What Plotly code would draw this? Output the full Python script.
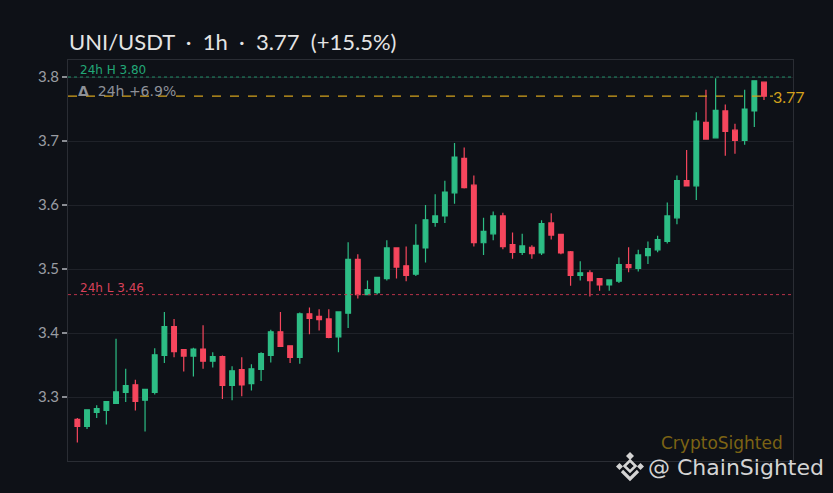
import pandas as pd
import plotly.graph_objects as go

# hourly UNI/USDT candles
open_ = [3.265, 3.254, 3.276, 3.279, 3.290, 3.307, 3.319, 3.295, 3.307, 3.365,
         3.410, 3.374, 3.364, 3.375, 3.356, 3.363, 3.318, 3.343, 3.321, 3.343,
         3.365, 3.402, 3.380, 3.362, 3.430, 3.426, 3.422, 3.394, 3.431, 3.515,
         3.460, 3.463, 3.485, 3.533, 3.505, 3.492, 3.533, 3.573, 3.583, 3.619,
         3.673, 3.631, 3.541, 3.555, 3.583, 3.538, 3.526, 3.534, 3.525, 3.572,
         3.554, 3.527, 3.490, 3.494, 3.485, 3.475, 3.481, 3.507, 3.501, 3.521,
         3.530, 3.543, 3.580, 3.638, 3.630, 3.729, 3.705, 3.747, 3.717, 3.701,
         3.747, 3.792]
high = [3.267, 3.281, 3.287, 3.293, 3.391, 3.344, 3.327, 3.313, 3.376, 3.433,
        3.422, 3.374, 3.377, 3.412, 3.370, 3.365, 3.348, 3.362, 3.351, 3.370,
        3.405, 3.433, 3.380, 3.432, 3.440, 3.437, 3.437, 3.433, 3.542, 3.523,
        3.482, 3.487, 3.545, 3.533, 3.535, 3.570, 3.600, 3.617, 3.638, 3.697,
        3.690, 3.646, 3.580, 3.590, 3.588, 3.557, 3.555, 3.537, 3.576, 3.587,
        3.554, 3.528, 3.512, 3.498, 3.485, 3.483, 3.518, 3.534, 3.530, 3.543,
        3.552, 3.604, 3.646, 3.686, 3.745, 3.780, 3.798, 3.757, 3.727, 3.780,
        3.794, 3.792]
low = [3.229, 3.250, 3.267, 3.257, 3.289, 3.292, 3.279, 3.246, 3.304, 3.353,
       3.362, 3.340, 3.332, 3.344, 3.346, 3.297, 3.295, 3.301, 3.310, 3.325,
       3.354, 3.379, 3.353, 3.352, 3.398, 3.404, 3.392, 3.370, 3.408, 3.454,
       3.460, 3.460, 3.482, 3.485, 3.481, 3.489, 3.510, 3.566, 3.572, 3.602,
       3.626, 3.535, 3.522, 3.545, 3.531, 3.516, 3.522, 3.516, 3.522, 3.546,
       3.523, 3.474, 3.482, 3.457, 3.466, 3.466, 3.478, 3.495, 3.496, 3.508,
       3.526, 3.540, 3.570, 3.630, 3.608, 3.702, 3.705, 3.677, 3.680, 3.694,
       3.722, 3.764]
close = [3.254, 3.280, 3.282, 3.293, 3.308, 3.318, 3.293, 3.312, 3.366, 3.410,
         3.371, 3.364, 3.375, 3.356, 3.363, 3.318, 3.341, 3.319, 3.344, 3.368,
         3.402, 3.379, 3.362, 3.430, 3.423, 3.421, 3.393, 3.433, 3.515, 3.460,
         3.468, 3.487, 3.533, 3.503, 3.490, 3.537, 3.577, 3.583, 3.620, 3.675,
         3.627, 3.541, 3.559, 3.583, 3.535, 3.526, 3.536, 3.524, 3.571, 3.553,
         3.525, 3.490, 3.494, 3.482, 3.475, 3.483, 3.507, 3.502, 3.522, 3.532,
         3.546, 3.583, 3.638, 3.630, 3.731, 3.703, 3.748, 3.715, 3.701, 3.750,
         3.794, 3.770]

times = pd.date_range("2024-03-01 00:00", periods=len(close), freq="h")

last_price = 3.77
high_24h = 3.80
low_24h = 3.46

GREEN = "#2dbd85"
RED = "#f6465d"
GOLD = "#d4a21c"
BG = "#0e1117"
WIDE = "DejaVu Sans"

fig = go.Figure(go.Candlestick(
    x=times, open=open_, high=high, low=low, close=close,
    increasing=dict(line=dict(color=GREEN, width=1.2), fillcolor=GREEN),
    decreasing=dict(line=dict(color=RED, width=1.2), fillcolor=RED),
    showlegend=False,
))

# page pixels -> paper coords (plot area 68..793 x 60..461)
def px(x):
    return (x - 68) / 725

def py(y):
    return (461 - y) / 401

# reference lines
fig.add_shape(type="line", xref="paper", x0=0, x1=1, y0=high_24h, y1=high_24h,
              line=dict(color="#1f8f68", width=1, dash="dot"))
fig.add_shape(type="line", xref="paper", x0=0, x1=1, y0=low_24h, y1=low_24h,
              line=dict(color="#b8334a", width=1, dash="dot"))
fig.add_shape(type="line", xref="paper", x0=0, x1=px(773), y0=last_price, y1=last_price,
              line=dict(color=GOLD, width=1.3, dash="dash"))

fig.add_annotation(xref="paper", x=px(78), y=high_24h, yanchor="bottom", xanchor="left",
                   text="24h H 3.80", showarrow=False, yshift=-2,
                   font=dict(family=WIDE, size=12, color="#22a877"))
fig.add_annotation(xref="paper", x=px(78), y=low_24h, yanchor="bottom", xanchor="left",
                   text="24h L 3.46", showarrow=False, yshift=-2,
                   font=dict(family=WIDE, size=12, color="#d9415a"))
fig.add_annotation(xref="paper", x=px(76), y=last_price, yanchor="middle", xanchor="left",
                   text="<b>Δ</b>\u00a0\u00a024h +6.9%", showarrow=False, yshift=5,
                   font=dict(family=WIDE, size=14, color="#8d9097"))
fig.add_annotation(xref="paper", x=px(771), y=last_price, yanchor="middle", xanchor="left",
                   text="3.77", showarrow=False, yshift=0,
                   font=dict(size=16, color=GOLD))

# watermarks
fig.add_annotation(xref="paper", yref="paper", x=px(722), y=py(443), xanchor="center",
                   yanchor="middle", text="CryptoSighted", showarrow=False,
                   font=dict(family=WIDE, size=17, color="#7c6314"))
fig.add_annotation(xref="paper", yref="paper", x=px(646), y=py(467), xanchor="left",
                   yanchor="middle", text="@ ChainSighted", showarrow=False,
                   font=dict(family=WIDE, size=22, color="#d4d4d4"))

# small exchange logo next to the handle
LOGO = "#d4d4d4"
def diamond(cx, cy, r):
    return (f"M {px(cx)},{py(cy - r)} L {px(cx + r)},{py(cy)} "
            f"L {px(cx)},{py(cy + r)} L {px(cx - r)},{py(cy)} Z")

for cx, cy, r in [(630, 456, 4), (619.5, 466.5, 3.5), (640.5, 466.5, 3.5)]:
    fig.add_shape(type="path", xref="paper", yref="paper", path=diamond(cx, cy, r),
                  fillcolor=LOGO, line=dict(width=0))
fig.add_shape(type="path", xref="paper", yref="paper", path=diamond(630, 466, 5.5),
              line=dict(color=LOGO, width=2.6))
fig.add_shape(type="path", xref="paper", yref="paper",
              path=f"M {px(622)},{py(471)} L {px(630)},{py(479)} L {px(638)},{py(471)}",
              line=dict(color=LOGO, width=3.2))

x_start = times[0] - pd.Timedelta(minutes=58)
x_end = times[0] + pd.Timedelta(hours=74)

fig.update_layout(
    width=833, height=493,
    margin=dict(l=68, r=40, t=60, b=32),
    paper_bgcolor=BG, plot_bgcolor=BG,
    title=dict(text="UNI/USDT\u00a0\u00a0·\u00a0\u00a01h\u00a0\u00a0·\u00a0\u00a03.77\u00a0\u00a0(+15.5%)",
               x=px(69), xref="paper", xanchor="left", y=1 - 42 / 493, yanchor="middle",
               font=dict(family="Lato", size=22, color="#e4e4e4")),
    font=dict(family="Lato", color="#9a9da3"),
    xaxis=dict(range=[x_start, x_end], rangeslider=dict(visible=False),
               showticklabels=False, showgrid=False, zeroline=False,
               showline=True, mirror=True, linecolor="#2a2d34", linewidth=1, ticks=""),
    yaxis=dict(range=[3.2, 3.8266], tickvals=[3.3, 3.4, 3.5, 3.6, 3.7, 3.8],
               ticktext=["3.3", "3.4", "3.5", "3.6", "3.7", "3.8"],
               showgrid=True, gridcolor="#1f2229", gridwidth=1, zeroline=False,
               showline=True, mirror=True, linecolor="#2a2d34", linewidth=1,
               ticks="outside", ticklen=5, tickwidth=1.5, tickcolor="#8a8d93",
               tickfont=dict(size=15, color="#9a9da3")),
)

# drop the default page margin so the figure sits at the window's top-left
fig.write_html("out.html", config={"displayModeBar": False},
               post_script="document.body.style.margin='0';"
                           "document.body.style.background='%s';" % BG)
